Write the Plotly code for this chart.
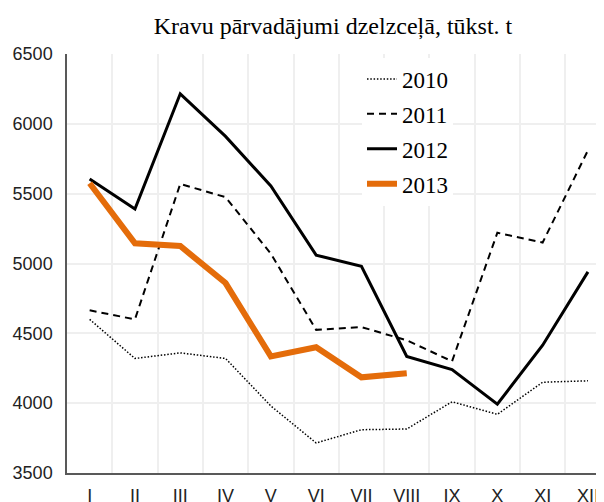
import plotly.graph_objects as go

months = ["I", "II", "III", "IV", "V", "VI", "VII", "VIII", "IX", "X", "XI", "XII"]
years = ["2010", "2011", "2012", "2013"]
v2010 = [4600, 4320, 4360, 4320, 3980, 3715, 3810, 3815, 4010, 3920, 4150, 4160]
v2011 = [4665, 4600, 5570, 5475, 5070, 4525, 4545, 4450, 4300, 5220, 5150, 5810]
v2012 = [5605, 5390, 6215, 5910, 5555, 5060, 4980, 4335, 4240, 3993, 4415, 4940]
v2013 = [5575, 5145, 5125, 4860, 4335, 4400, 4185, 4215]
subtitle = "Kravu pārvadājumi dzelzceļā, tūkst. t"

series = [v2010, v2011, v2012, v2013]
styles = [
    dict(color="#000000", width=1.5, dash="1.5px,1.8px"),
    dict(color="#000000", width=2, dash="7px,5px"),
    dict(color="#000000", width=3, dash="solid"),
    dict(color="#E46C0A", width=6, dash="solid"),
]

fig = go.Figure()
for i, (name, vals, st) in enumerate(zip(years, series, styles)):
    fig.add_trace(go.Scatter(
        x=months[:len(vals)], y=vals, name=name, mode="lines",
        line=st, legendgroup=name,
    ))

# page body has an 8px margin, so the figure starts at (8, 8)
OFF = 8
W, H = 604 - OFF, 502 - OFF
L, T = 67 - OFF, 54 - OFF
B = H - (473 - OFF)
plot_w = W - L
plot_h = H - T - B
cat_w = 45.3
xmax = -0.5 + plot_w / cat_w

fig.update_layout(
    width=W, height=H,
    margin=dict(l=L, r=0, t=T, b=B, autoexpand=False),
    paper_bgcolor="white", plot_bgcolor="white",
    title=dict(text=subtitle, x=(333 - OFF) / W, xref="container", xanchor="center",
               y=1 - (25.5 - OFF) / H, yref="container", yanchor="middle",
               font=dict(family="Liberation Serif", size=24, color="#000")),
    showlegend=True,
    legend=dict(x=(362 - OFF - L) / plot_w, y=1 - (57.5 - OFF - T) / plot_h,
                xanchor="left", yanchor="top",
                bgcolor="white", font=dict(family="Liberation Serif", size=23, color="#000"),
                traceorder="grouped", tracegroupgap=2),
    xaxis=dict(type="category", categoryorder="array", categoryarray=months,
               range=[-0.5, xmax], tickson="boundaries", ticks="",
               showgrid=True, gridcolor="#EFEFEF", gridwidth=1.5,
               showline=True, linecolor="#595959", linewidth=1.5,
               tickfont=dict(family="Liberation Sans", size=18, color="#222"),
               ticklabelstandoff=6, automargin=False, zeroline=False),
    yaxis=dict(range=[3500, 6500], dtick=500, tick0=3500, ticks="",
               showgrid=True, gridcolor="#EFEFEF", gridwidth=1.5,
               showline=True, linecolor="#595959", linewidth=1.5,
               tickfont=dict(family="Liberation Sans", size=18, color="#222"),
               ticklabelstandoff=9, automargin=False, zeroline=False),
)

fig.write_html("out.html")
